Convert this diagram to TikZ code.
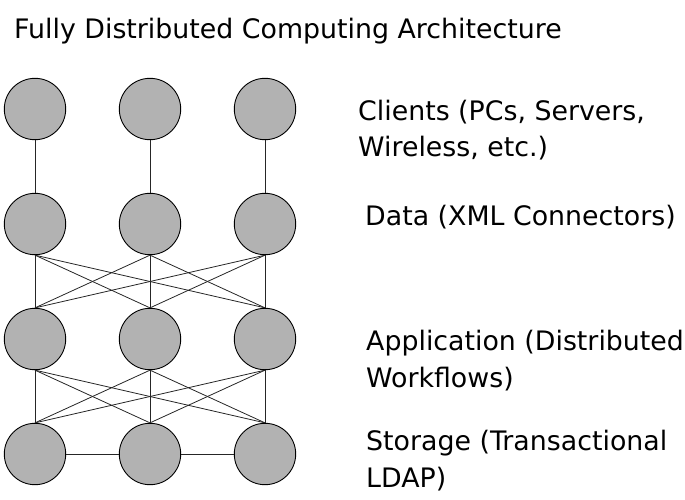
\documentclass[tikz,border=0pt]{standalone}
\usepackage{fontspec}
\setmainfont{DejaVu Sans}
\begin{document}
\begin{tikzpicture}[x=1pt,y=-1pt,
  unit/.style={circle,draw=black,line width=0.9pt,fill=black!30,minimum size=61.4pt,inner sep=0pt},
  link/.style={line width=0.8pt,draw=black!85},
  label/.style={anchor=base west,align=left,inner sep=0pt,font=\fontsize{26.8}{36.5}\selectfont}]
\useasboundingbox (0,0) rectangle (685,499);

% title
\node[label] (title) at (14,38) {Fully Distributed Computing Architecture};

% four tiers of three units each
\foreach \r/\y in {1/109,2/224,3/339,4/454}
  \foreach \c/\x in {1/35,2/150,3/265}
    \node[unit] (n\r\c) at (\x,\y) {};

% clients to data: one line per column
\foreach \c in {1,2,3}
  \draw[link] (n1\c.south) -- (n2\c.north);

% data to application and application to storage: every pair
\foreach \a in {1,2,3}
  \foreach \b in {1,2,3} {
    \draw[link] (n2\a.south) -- (n3\b.north);
    \draw[link] (n3\a.south) -- (n4\b.north);
  }

% storage units joined side by side
\draw[link] (n41.east) -- (n42.west);
\draw[link] (n42.east) -- (n43.west);

% tier labels (two-line labels are placed by their last baseline)
\node[label] (lclients) at (358,156.5) {Clients (PCs, Servers,\\Wireless, etc.)};
\node[label] (ldata) at (365,225) {Data (XML Connectors)};
\node[label] (lapp) at (366,387.2) {Application (Distributed\\Workflows)};
\node[label] (lstore) at (366,487.2) {Storage (Transactional\\LDAP)};
\end{tikzpicture}
\end{document}
